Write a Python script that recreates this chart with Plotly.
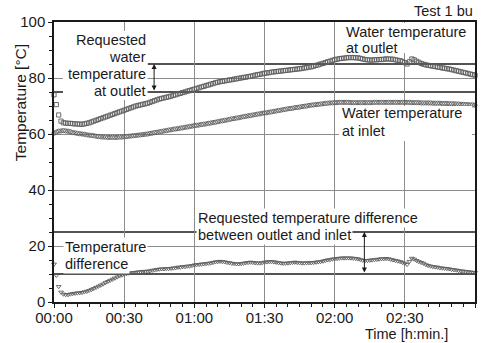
import plotly.graph_objects as go

# Elapsed time in minutes, one sample per minute
minutes = list(range(0, 181))

outlet_temp = [
    74.0, 70.5, 66.8, 64.6, 64.0, 63.9, 63.8, 63.8, 63.7, 63.6,
    63.6, 63.5, 63.5, 63.6, 63.8, 64.0, 64.3, 64.6, 64.9, 65.2,
    65.5, 65.8, 66.1, 66.4, 66.7, 67.0, 67.3, 67.6, 67.9, 68.2,
    68.5, 68.8, 69.1, 69.4, 69.7, 70.0, 70.2, 70.4, 70.6, 70.8,
    71.0, 71.3, 71.6, 71.9, 72.2, 72.5, 72.7, 72.9, 73.1, 73.3,
    73.5, 73.8, 74.0, 74.3, 74.5, 74.8, 75.0, 75.3, 75.5, 75.8,
    76.0, 76.3, 76.5, 76.8, 77.0, 77.3, 77.5, 77.8, 78.0, 78.3,
    78.5, 78.7, 78.8, 79.0, 79.1, 79.3, 79.4, 79.6, 79.7, 79.9,
    80.0, 80.2, 80.3, 80.5, 80.6, 80.8, 81.0, 81.2, 81.3, 81.5,
    81.7, 81.8, 81.9, 82.1, 82.2, 82.3, 82.4, 82.5, 82.6, 82.7,
    82.8, 82.9, 83.0, 83.1, 83.2, 83.3, 83.4, 83.6, 83.7, 83.9,
    84.0, 84.2, 84.5, 84.7, 85.0, 85.2, 85.5, 85.8, 86.0, 86.3,
    86.5, 86.7, 86.9, 87.0, 87.1, 87.2, 87.3, 87.3, 87.3, 87.2,
    87.2, 87.0, 86.8, 86.6, 86.5, 86.4, 86.4, 86.5, 86.5, 86.6,
    86.6, 86.7, 86.8, 86.8, 86.7, 86.7, 86.5, 86.3, 86.2, 85.9,
    85.5, 85.0, 85.8, 86.8, 86.5, 86.0, 85.6, 85.2, 84.9, 84.7,
    84.5, 84.4, 84.2, 84.1, 83.9, 83.8, 83.6, 83.5, 83.3, 83.2,
    83.0, 82.8, 82.6, 82.4, 82.2, 82.0, 81.8, 81.6, 81.4, 81.2,
    81.0,
]

inlet_temp = [
    60.3, 60.7, 61.0, 61.1, 61.2, 61.1, 61.0, 60.8, 60.5, 60.4,
    60.2, 60.1, 60.0, 59.9, 59.7, 59.6, 59.5, 59.4, 59.2, 59.1,
    59.0, 58.9, 58.9, 58.8, 58.8, 58.8, 58.8, 58.8, 58.9, 58.9,
    59.0, 59.1, 59.2, 59.3, 59.4, 59.5, 59.6, 59.7, 59.8, 59.9,
    60.0, 60.2, 60.3, 60.5, 60.6, 60.8, 60.9, 61.1, 61.2, 61.4,
    61.5, 61.7, 61.8, 61.9, 62.1, 62.2, 62.4, 62.5, 62.7, 62.8,
    63.0, 63.1, 63.2, 63.4, 63.5, 63.6, 63.8, 63.9, 64.1, 64.2,
    64.4, 64.6, 64.7, 64.9, 65.0, 65.2, 65.4, 65.5, 65.7, 65.8,
    66.0, 66.2, 66.3, 66.5, 66.6, 66.8, 66.9, 67.1, 67.2, 67.4,
    67.5, 67.6, 67.8, 67.9, 68.1, 68.2, 68.4, 68.5, 68.7, 68.8,
    69.0, 69.1, 69.2, 69.4, 69.5, 69.6, 69.8, 69.9, 70.0, 70.2,
    70.3, 70.4, 70.5, 70.6, 70.7, 70.8, 70.9, 71.0, 71.1, 71.1,
    71.2, 71.2, 71.3, 71.3, 71.3, 71.3, 71.3, 71.2, 71.2, 71.2,
    71.2, 71.2, 71.2, 71.2, 71.2, 71.2, 71.2, 71.3, 71.3, 71.3,
    71.3, 71.3, 71.3, 71.3, 71.3, 71.3, 71.3, 71.3, 71.3, 71.3,
    71.3, 71.3, 71.3, 71.2, 71.2, 71.2, 71.2, 71.1, 71.1, 71.1,
    71.1, 71.1, 71.0, 71.0, 71.0, 71.0, 70.9, 70.9, 70.9, 70.8,
    70.8, 70.8, 70.7, 70.7, 70.6, 70.6, 70.5, 70.5, 70.4, 70.4,
    70.3,
]

temp_diff = [
    13.5, 9.5, 5.5, 3.5, 2.8, 2.6, 2.6, 2.8, 3.0, 3.1,
    3.2, 3.3, 3.4, 3.6, 3.8, 4.1, 4.4, 4.8, 5.2, 5.6,
    6.0, 6.4, 6.9, 7.3, 7.7, 8.1, 8.5, 8.9, 9.3, 9.6,
    9.9, 10.1, 10.3, 10.4, 10.5, 10.6, 10.7, 10.8, 10.9, 10.9,
    11.0, 11.1, 11.3, 11.4, 11.6, 11.7, 11.8, 11.8, 11.9, 11.9,
    12.0, 12.1, 12.2, 12.4, 12.4, 12.6, 12.6, 12.8, 12.8, 13.0,
    13.2, 13.3, 13.4, 13.5, 13.6, 13.7, 13.8, 13.9, 14.1, 14.3,
    14.4, 14.5, 14.4, 14.3, 14.1, 14.0, 13.8, 13.7, 13.6, 13.6,
    13.7, 13.8, 14.0, 14.1, 14.2, 14.1, 14.0, 13.9, 13.9, 14.0,
    14.2, 14.3, 14.4, 14.4, 14.3, 14.2, 14.0, 13.9, 13.8, 13.8,
    13.9, 14.0, 14.1, 14.2, 14.1, 14.0, 13.9, 13.9, 14.0, 14.0,
    14.0, 14.1, 14.2, 14.3, 14.4, 14.6, 14.8, 15.0, 15.1, 15.3,
    15.4, 15.5, 15.6, 15.7, 15.7, 15.7, 15.7, 15.7, 15.6, 15.5,
    15.4, 15.1, 14.9, 14.8, 14.8, 14.9, 15.0, 15.1, 15.2, 15.3,
    15.4, 15.4, 15.5, 15.4, 15.2, 15.0, 14.8, 14.6, 14.4, 14.1,
    13.8, 13.4, 14.5, 15.6, 15.3, 14.8, 14.4, 14.1, 13.8, 13.3,
    13.0, 12.8, 12.6, 12.5, 12.4, 12.2, 12.1, 12.0, 11.9, 11.8,
    11.6, 11.5, 11.4, 11.2, 11.1, 11.0, 10.9, 10.8, 10.7, 10.6,
    10.5,
]

time_ticks = [0, 30, 60, 90, 120, 150, 180]
time_labels = ["00:00", "00:30", "01:00", "01:30", "02:00", "02:30", "03:00"]
temp_ticks = [0, 20, 40, 60, 80, 100]

# Requested ranges: outlet temperature band and outlet-inlet difference band
outlet_band = [75, 85]
diff_band = [10, 25]

FONT = "Liberation Sans, Arial, sans-serif"
INK = "#1a1a1a"
MARK = "#5c5c5c"

fig = go.Figure()

series = [
    (outlet_temp, "square-open"),
    (inlet_temp, "circle-open"),
    (temp_diff, "triangle-down-open"),
]
for values, symbol in series:
    fig.add_trace(go.Scatter(
        x=minutes, y=values, mode="markers", cliponaxis=False,
        marker=dict(symbol=symbol, size=4.2, color=MARK, line=dict(width=0.9, color=MARK)),
        showlegend=False, hoverinfo="skip",
    ))

shapes = []
# Band limits
shapes.append(dict(type="line", xref="x", yref="y", x0=40, x1=180,
                   y0=outlet_band[1], y1=outlet_band[1],
                   line=dict(color=INK, width=1.6), layer="below"))
shapes.append(dict(type="line", xref="x", yref="y", x0=0, x1=180,
                   y0=outlet_band[0], y1=outlet_band[0],
                   line=dict(color=INK, width=1.6), layer="below"))
for level in diff_band:
    shapes.append(dict(type="line", xref="x", yref="y", x0=0, x1=180,
                       y0=level, y1=level,
                       line=dict(color=INK, width=1.6), layer="below"))

# White panels behind the multi-line labels
for x0, x1, y0, y1 in [(3.85, 40.0, 72.1, 96.8),
                       (123.6, 178.7, 88.9, 99.6),
                       (121.8, 178.7, 57.5, 70.0)]:
    shapes.append(dict(type="rect", xref="x", yref="y", x0=x0, x1=x1, y0=y0, y1=y1,
                       fillcolor="white", line=dict(width=0), layer="above"))

annotations = []


def label(text, x, y, anchor, bg=None):
    annotations.append(dict(
        text=text, x=x, y=y, xref="x", yref="y", xanchor=anchor, yanchor="middle",
        showarrow=False, font=dict(family=FONT, size=14.5, color=INK),
        bgcolor=bg, borderpad=1,
    ))


# Requested outlet temperature label (right aligned)
for txt, yv in [("Requested", 93.6), ("water", 87.5), ("temperature", 81.4), ("at outlet", 75.4)]:
    label(txt, 40.0, yv, "right")

label("Water temperature", 124.0, 96.5, "left")
label("at outlet", 124.0, 90.6, "left")
label("Water temperature", 122.4, 67.5, "left")
label("at inlet", 122.4, 60.9, "left")
label("Temperature", 3.85, 19.5, "left", "white")
label("difference", 3.85, 13.6, "left", "white")
label("Requested temperature difference", 60.6, 30.0, "left", "white")
label("between outlet and inlet", 60.6, 23.9, "left", "white")

# Double-headed arrows spanning each requested band
for xa, band in [(42.8, outlet_band), (132.7, diff_band)]:
    annotations.append(dict(
        x=xa, y=band[1], ax=xa, ay=band[0], xref="x", yref="y", axref="x", ayref="y",
        text="", showarrow=True, arrowhead=2, startarrowhead=2, arrowside="end+start",
        arrowsize=1, arrowwidth=1, arrowcolor=INK, standoff=0, startstandoff=0,
    ))

annotations.append(dict(
    text="Test 1 bu", xref="paper", yref="paper", x=1, y=1, xanchor="right",
    yanchor="bottom", yshift=1, showarrow=False,
    font=dict(family=FONT, size=14.5, color=INK),
))
annotations.append(dict(
    text="Time [h:min.]", xref="x", yref="paper", x=150.5, y=0, xanchor="center",
    yanchor="middle", yshift=-32, showarrow=False,
    font=dict(family=FONT, size=14.5, color=INK),
))
annotations.append(dict(
    text="Temperature [°C]", xref="paper", yref="y", x=0, y=71, xanchor="center",
    yanchor="middle", xshift=-34, textangle=-90, showarrow=False,
    font=dict(family=FONT, size=15.5, color=INK),
))

axis_common = dict(
    showgrid=True, gridcolor="#8c8c8c", gridwidth=1, zeroline=False,
    showline=True, linecolor=INK, linewidth=1.5, mirror=True,
    ticks="outside", ticklen=4, tickcolor=INK, tickwidth=1,
    tickfont=dict(family=FONT, size=15, color=INK),
)

fig.update_layout(
    width=493, height=343,
    margin=dict(l=54, r=18, t=22, b=41),
    paper_bgcolor="white", plot_bgcolor="white",
    xaxis=dict(range=[0, 180], tickmode="array", tickvals=time_ticks, ticktext=time_labels,
               ticklabelstandoff=-3,
               minor=dict(tick0=0, dtick=5, ticks="outside", ticklen=3, tickcolor=INK,
                          showgrid=False),
               **axis_common),
    yaxis=dict(range=[0, 100], tickmode="array", tickvals=temp_ticks,
               minor=dict(tick0=0, dtick=5, ticks="outside", ticklen=3, tickcolor=INK,
                          showgrid=False),
               **axis_common),
    shapes=shapes,
    annotations=annotations,
    showlegend=False,
)

fig.write_html("out.html")
